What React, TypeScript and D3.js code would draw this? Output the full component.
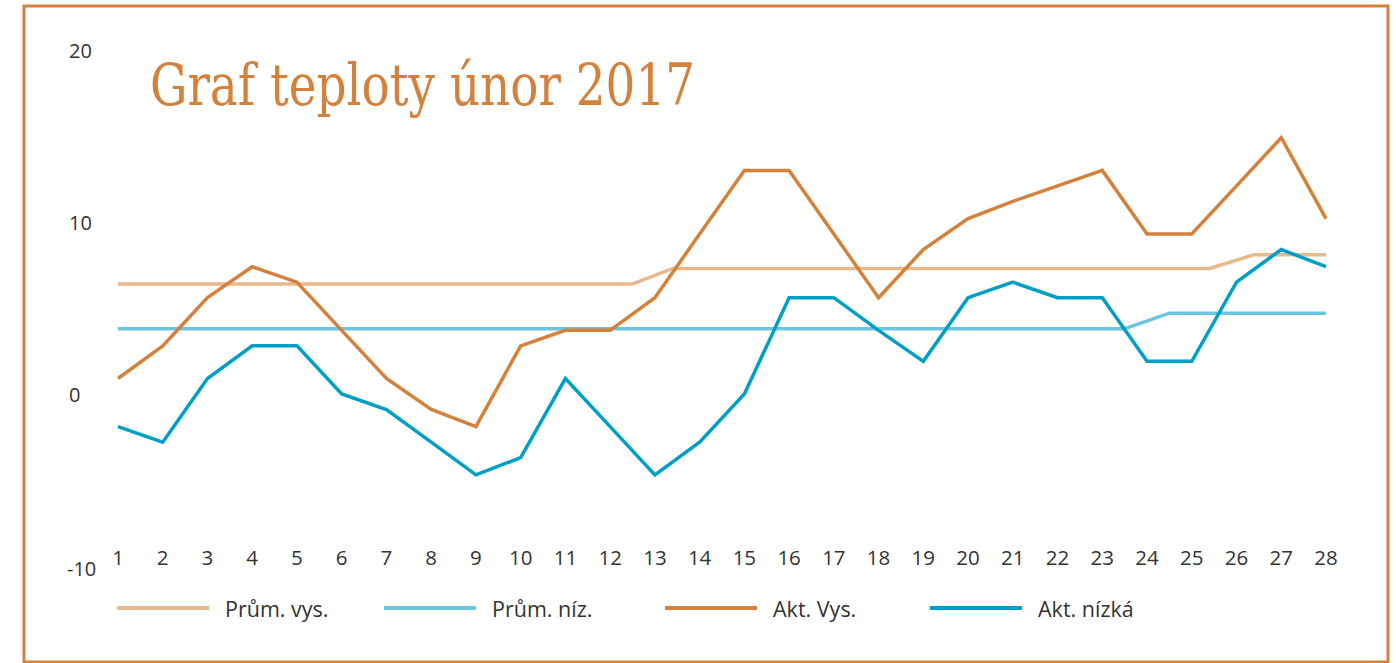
import React, { useEffect, useRef } from 'react';
import * as d3 from 'd3';

const days = d3.range(1, 29);
const yTicks = [20, 10, 0, -10];

// daily actual values (°C)
const aktVys = [0.9, 2.8, 5.6, 7.4, 6.5, 3.7, 0.9, -0.9, -1.9, 2.8, 3.7, 3.7, 5.6, 9.3,
  13.0, 13.0, 9.3, 5.6, 8.4, 10.2, 11.2, 12.1, 13.0, 9.3, 9.3, 12.1, 14.9, 10.2];
const aktNizka = [-1.9, -2.8, 0.9, 2.8, 2.8, 0, -0.9, -2.8, -4.7, -3.7, 0.9, -1.9, -4.7, -2.8,
  0, 5.6, 5.6, 3.7, 1.9, 5.6, 6.5, 5.6, 5.6, 1.9, 1.9, 6.5, 8.4, 7.4];

// long-term averages, given as breakpoints (day, value)
const prumVysDays = [1, 12.5, 13.4, 25.4, 26.4, 28];
const prumVys = [6.4, 6.4, 7.3, 7.3, 8.1, 8.1];
const prumNizDays = [1, 23.5, 24.5, 28];
const prumNiz = [3.8, 3.8, 4.7, 4.7];

const legendNames = ['Prům. vys.', 'Prům. níz.', 'Akt. Vys.', 'Akt. nízká'];
const colors = ['#e8b98b', '#6cc5df', '#d4813b', '#00a0c6'];

const W = 1396;
const H = 663;

const App = () => {
  const ref = useRef<SVGSVGElement>(null);

  useEffect(() => {
    const svg = d3.select(ref.current);
    svg.selectAll('*').remove();

    const x = d3.scaleLinear().domain([1, 28]).range([118, 1326]);
    const y = d3.scaleLinear().domain([-10, 20]).range([566, 50]);
    const font = "'Open Sans', sans-serif";

    // frame
    svg.append('rect')
      .attr('x', 24).attr('y', 6)
      .attr('width', 1364).attr('height', 656)
      .attr('fill', 'white')
      .attr('stroke', '#d4813b')
      .attr('stroke-width', 3);

    // title
    svg.append('text')
      .attr('x', 150).attr('y', 105)
      .attr('font-family', "'DejaVu Serif', serif")
      .attr('font-size', 57)
      .attr('fill', '#d4813b')
      .attr('textLength', 545)
      .attr('lengthAdjust', 'spacingAndGlyphs')
      .text('Graf teploty únor 2017');

    // y labels
    svg.append('g').selectAll('text')
      .data(yTicks)
      .enter().append('text')
      .attr('x', d => (d < 0 ? 67 : 69))
      .attr('y', d => y(d) + (d < 0 ? 2 : 0))
      .attr('dominant-baseline', 'central')
      .attr('font-family', font)
      .attr('font-size', 20)
      .attr('fill', '#333')
      .text(d => d);

    // x labels
    svg.append('g').selectAll('text')
      .data(days)
      .enter().append('text')
      .attr('x', d => x(d))
      .attr('y', 557)
      .attr('text-anchor', 'middle')
      .attr('dominant-baseline', 'central')
      .attr('font-family', font)
      .attr('font-size', 20.5)
      .attr('fill', '#333')
      .text(d => d);

    const line = d3.line<[number, number]>().x(d => x(d[0])).y(d => y(d[1]));
    const series: [number, number][][] = [
      prumVysDays.map((d, i) => [d, prumVys[i]]),
      prumNizDays.map((d, i) => [d, prumNiz[i]]),
      days.map((d, i) => [d, aktVys[i]]),
      days.map((d, i) => [d, aktNizka[i]]),
    ];

    svg.append('g').selectAll('path')
      .data(series)
      .enter().append('path')
      .attr('d', d => line(d))
      .attr('fill', 'none')
      .attr('stroke', (d, i) => colors[i])
      .attr('stroke-width', 3.5)
      .attr('stroke-linejoin', 'miter');

    // legend
    const legendX = [117, 384, 665, 930];
    const lg = svg.append('g').selectAll('g')
      .data(legendNames)
      .enter().append('g')
      .attr('transform', (d, i) => `translate(${legendX[i]},608)`);
    lg.append('line')
      .attr('x1', 0).attr('x2', 92)
      .attr('stroke', (d, i) => colors[i])
      .attr('stroke-width', 4);
    lg.append('text')
      .attr('x', 108)
      .attr('dominant-baseline', 'central')
      .attr('font-family', font)
      .attr('font-size', 21.5)
      .attr('fill', '#333')
      .text(d => d);
  }, []);

  return (
    <div style={{ position: 'absolute', left: 0, top: 0 }}>
      <svg ref={ref} width={W} height={H} style={{ display: 'block' }} />
    </div>
  );
};

export default App;
